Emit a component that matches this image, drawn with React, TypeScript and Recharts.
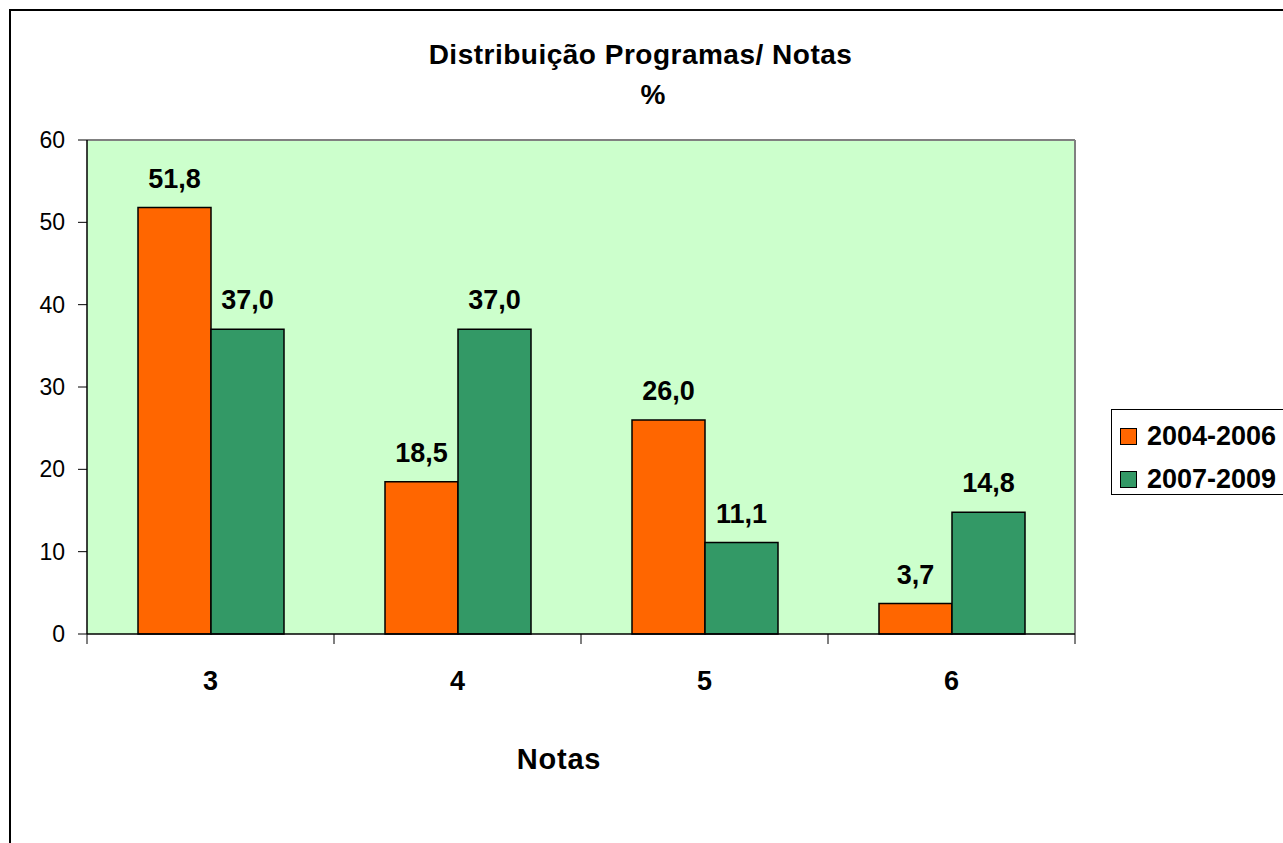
import { BarChart, Bar, XAxis, YAxis, CartesianGrid, LabelList } from 'recharts';

const notas = ['3', '4', '5', '6'];
const serie2004 = [51.8, 18.5, 26.0, 3.7];
const serie2007 = [37.0, 37.0, 11.1, 14.8];
const yTicks = [0, 10, 20, 30, 40, 50, 60];
const boundaryTicks = [0, 1, 2, 3, 4];

const series = [
  { key: '2004-2006', values: serie2004, color: '#FF6600' },
  { key: '2007-2009', values: serie2007, color: '#339966' },
];

const chartData = notas.map((n, i) => ({
  nota: n,
  idx: i,
  '2004-2006': serie2004[i],
  '2007-2009': serie2007[i],
}));

const FONT = '"Liberation Sans", Arial, sans-serif';
const fmt = (v: any) => Number(v).toFixed(1).replace('.', ',');

export default function App() {
  return (
    <div
      style={{
        position: 'fixed',
        left: 0,
        top: 0,
        width: 1283,
        height: 843,
        overflow: 'hidden',
        background: '#fff',
        fontFamily: FONT,
      }}
    >
      <div
        style={{
          position: 'absolute',
          left: 9,
          top: 9,
          width: 1400,
          height: 1000,
          borderLeft: '2px solid #000',
          borderTop: '2px solid #000',
        }}
      />
      <BarChart
        width={1283}
        height={843}
        data={chartData}
        margin={{ top: 140, right: 208, left: 0, bottom: 0 }}
        barCategoryGap={51}
        barGap={0}
        style={{ position: 'absolute', left: 0, top: 0 }}
      >
        <CartesianGrid
          fill="#CCFFCC"
          fillOpacity={1}
          stroke="#808080"
          strokeWidth={2}
          horizontalCoordinatesGenerator={({ offset }: any) => [offset.top]}
          verticalCoordinatesGenerator={({ offset }: any) => [offset.left + offset.width]}
        />
        <XAxis
          xAxisId="b"
          type="number"
          dataKey="idx"
          domain={[0, 4]}
          ticks={boundaryTicks}
          allowDataOverflow
          height={1}
          tickSize={10}
          tickFormatter={() => ''}
          axisLine={{ stroke: '#000', strokeWidth: 1.5 }}
          tickLine={{ stroke: '#000' }}
        />
        <XAxis
          xAxisId="cat"
          dataKey="nota"
          height={208}
          axisLine={false}
          tickLine={false}
          tickSize={0}
          tickMargin={36}
          tick={{ fontSize: 27, fontWeight: 700, fill: '#000', fontFamily: FONT }}
        />
        <YAxis
          domain={[0, 60]}
          ticks={yTicks}
          width={87}
          tickSize={9}
          tickMargin={13}
          axisLine={{ stroke: '#000', strokeWidth: 1.5 }}
          tickLine={{ stroke: '#000' }}
          tick={{ fontSize: 23, fill: '#000', fontFamily: FONT }}
        />
        {series.map((s) => (
          <Bar
            key={s.key}
            xAxisId="cat"
            dataKey={s.key}
            fill={s.color}
            stroke="#000"
            strokeWidth={1.5}
            isAnimationActive={false}
          >
            <LabelList
              dataKey={s.key}
              position="top"
              offset={20}
              formatter={fmt}
              style={{ fontSize: 27, fontWeight: 700, fill: '#000', fontFamily: FONT }}
            />
          </Bar>
        ))}
      </BarChart>

      <div
        style={{
          position: 'absolute',
          left: 0,
          width: 1281,
          top: 41,
          textAlign: 'center',
          fontSize: 28,
          fontWeight: 700,
          lineHeight: 1,
          letterSpacing: 0.5,
          whiteSpace: 'nowrap',
        }}
      >
        Distribuição Programas/ Notas
      </div>
      <div
        style={{
          position: 'absolute',
          left: 553,
          width: 200,
          top: 81,
          textAlign: 'center',
          fontSize: 28,
          fontWeight: 700,
          lineHeight: 1,
        }}
      >
        %
      </div>
      <div
        style={{
          position: 'absolute',
          left: 459,
          width: 200,
          top: 745,
          textAlign: 'center',
          fontSize: 29,
          fontWeight: 700,
          lineHeight: 1,
          letterSpacing: 0.8,
        }}
      >
        Notas
      </div>

      <div
        style={{
          position: 'absolute',
          left: 1111,
          top: 409,
          width: 220,
          height: 84,
          border: '1.5px solid #000',
          background: '#fff',
        }}
      >
        {series.map((s, i) => (
          <div
            key={s.key}
            style={{
              position: 'absolute',
              left: 8,
              top: 13 + i * 43,
              display: 'flex',
              alignItems: 'center',
              whiteSpace: 'nowrap',
            }}
          >
            <div
              style={{
                width: 15,
                height: 15,
                background: s.color,
                border: '1.5px solid #000',
                marginRight: 10,
              }}
            />
            <span style={{ fontSize: 27, fontWeight: 700, lineHeight: 1 }}>{s.key}</span>
          </div>
        ))}
      </div>
    </div>
  );
}
